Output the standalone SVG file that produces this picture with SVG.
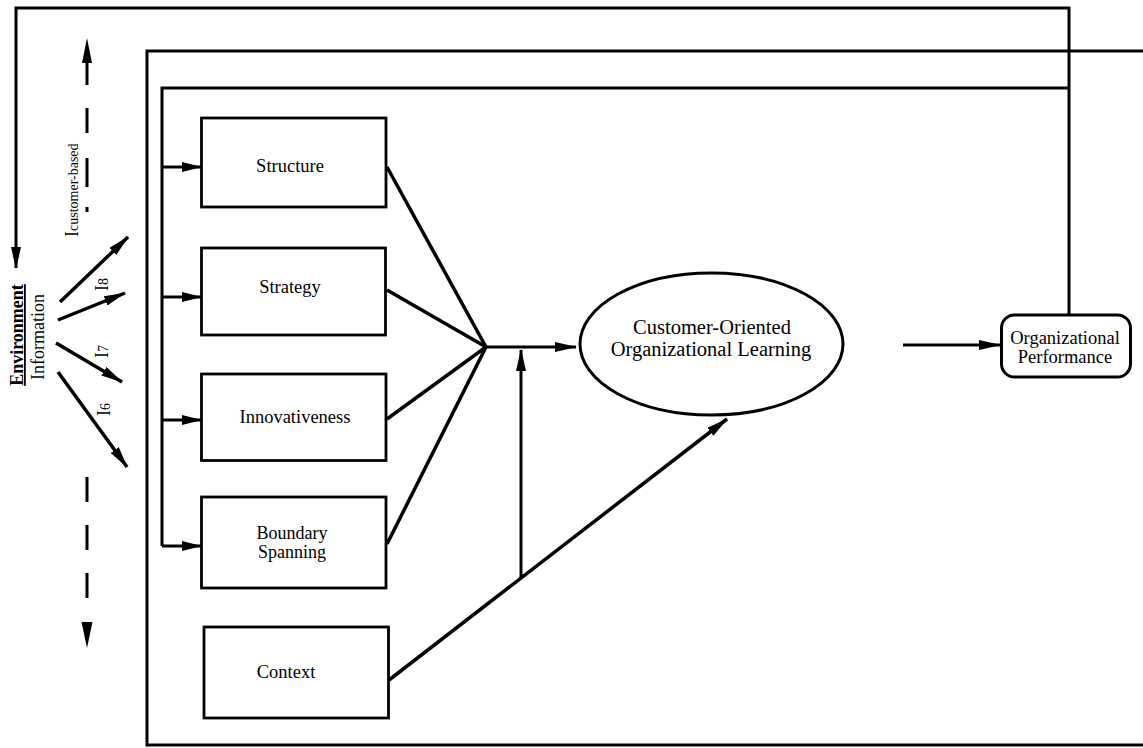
<svg xmlns="http://www.w3.org/2000/svg" width="1143" height="748" viewBox="0 0 1143 748">
<style>
.ln{stroke:#000;stroke-width:3;fill:none}
.thk{stroke:#000;stroke-width:3.5;fill:none}
.box{stroke:#000;stroke-width:2.8;fill:#fff}
.t{font-family:"Liberation Serif","Times New Roman",serif;fill:#000}
.lab{font-size:18.5px}
.big{font-size:20.5px}
</style>
<defs>
<marker id="ah" viewBox="0 0 22 10" refX="21" refY="5" markerWidth="22" markerHeight="10" markerUnits="userSpaceOnUse" orient="auto">
<path d="M0,0 L22,5 L0,10 z" fill="#000"/>
</marker>
<marker id="ahs" viewBox="0 0 20 10" refX="19" refY="5" markerWidth="20" markerHeight="10" markerUnits="userSpaceOnUse" orient="auto">
<path d="M0,0 L20,5 L0,10 z" fill="#000"/>
</marker>
</defs>
<rect width="1143" height="748" fill="#fff"/>

<g id="connectors">
<polyline class="ln" points="1069,315 1069,8 16,8 16,268" marker-end="url(#ah)"/>
<polyline class="ln" points="1143,51 147,51 147,745 1143,745"/>
<polyline class="ln" points="1069,88 162,88 162,546"/>
<line class="ln" x1="162" y1="167" x2="201" y2="167" marker-end="url(#ahs)"/>
<line class="ln" x1="162" y1="297" x2="201" y2="297" marker-end="url(#ahs)"/>
<line class="ln" x1="162" y1="420" x2="201" y2="420" marker-end="url(#ahs)"/>
<line class="ln" x1="162" y1="546" x2="201" y2="546" marker-end="url(#ahs)"/>
<line class="thk" x1="387" y1="167" x2="486" y2="347"/>
<line class="thk" x1="387" y1="290" x2="486" y2="347"/>
<line class="thk" x1="387" y1="419" x2="486" y2="347"/>
<line class="thk" x1="387" y1="544" x2="486" y2="347"/>
<line class="ln" x1="486" y1="347" x2="576" y2="347" marker-end="url(#ah)"/>
<line class="thk" x1="389" y1="680" x2="727" y2="419" marker-end="url(#ah)"/>
<line class="ln" x1="521" y1="578" x2="521" y2="350" marker-end="url(#ah)"/>
<line class="ln" x1="903" y1="345" x2="1000" y2="345" marker-end="url(#ah)"/>
<line class="thk" x1="60" y1="302" x2="128" y2="237" marker-end="url(#ah)"/>
<line class="thk" x1="58" y1="320" x2="125" y2="293" marker-end="url(#ah)"/>
<line class="thk" x1="56" y1="343" x2="122" y2="382" marker-end="url(#ah)"/>
<line class="thk" x1="58" y1="372" x2="127" y2="467" marker-end="url(#ah)"/>
<g fill="#000">
<polygon points="87,38 82,63 92,63"/>
<rect x="85.5" y="62" width="3" height="23"/>
<rect x="85.5" y="108" width="3" height="25"/>
<rect x="85.5" y="158" width="3" height="29"/>
<rect x="85.5" y="207" width="3" height="5"/>
<rect x="85.5" y="477" width="3" height="25"/>
<rect x="85.5" y="525" width="3" height="25"/>
<rect x="85.5" y="573" width="3" height="25"/>
<polygon points="81.5,622 92.5,622 87,648"/>
</g>
</g>

<g id="structure">
<rect class="box" x="201.5" y="118" width="184.5" height="89"/>
<text class="t lab" x="290" y="172" text-anchor="middle">Structure</text>
</g>
<g id="strategy">
<rect class="box" x="201.5" y="248" width="184" height="87"/>
<text class="t lab" x="290" y="293" text-anchor="middle">Strategy</text>
</g>
<g id="innovativeness">
<rect class="box" x="201.5" y="374" width="184.5" height="86.5"/>
<text class="t lab" x="295" y="423" text-anchor="middle">Innovativeness</text>
</g>
<g id="boundary">
<rect class="box" x="201.5" y="497" width="184.5" height="91"/>
<text class="t" font-size="18" x="292" y="539" text-anchor="middle">Boundary</text>
<text class="t" font-size="18" x="292" y="558" text-anchor="middle">Spanning</text>
</g>
<g id="context">
<rect class="box" x="204" y="627" width="184.5" height="91"/>
<text class="t lab" x="286" y="678" text-anchor="middle">Context</text>
</g>
<g id="learning">
<ellipse cx="711.5" cy="344" rx="131.5" ry="71" stroke="#000" stroke-width="3" fill="#fff"/>
<text class="t big" x="712" y="334" text-anchor="middle">Customer-Oriented</text>
<text class="t big" x="711" y="356" text-anchor="middle">Organizational Learning</text>
</g>
<g id="performance">
<rect x="1001.5" y="315" width="129" height="62" rx="13" ry="13" stroke="#000" stroke-width="3" fill="#fff"/>
<text class="t" font-size="18.5" x="1065" y="344" text-anchor="middle">Organizational</text>
<text class="t" font-size="18.5" x="1065" y="363" text-anchor="middle">Performance</text>
</g>
<g id="environment">
<text class="t" font-size="18" font-weight="bold" text-decoration="underline" transform="translate(23,335) rotate(-90)" text-anchor="middle">Environment</text>
<text class="t" font-size="18" transform="translate(44,337) rotate(-90)" text-anchor="middle">Information</text>
</g>
<g id="labels">
<text class="t" transform="translate(78,237) rotate(-90)"><tspan font-size="18">I</tspan><tspan font-size="14">customer-based</tspan></text>
<text class="t" transform="translate(108,291) rotate(-90)"><tspan font-size="18">I</tspan><tspan font-size="14">8</tspan></text>
<text class="t" transform="translate(108,358) rotate(-90)"><tspan font-size="18">I</tspan><tspan font-size="14">7</tspan></text>
<text class="t" transform="translate(110,416) rotate(-90)"><tspan font-size="18">I</tspan><tspan font-size="14">6</tspan></text>
</g>
</svg>
